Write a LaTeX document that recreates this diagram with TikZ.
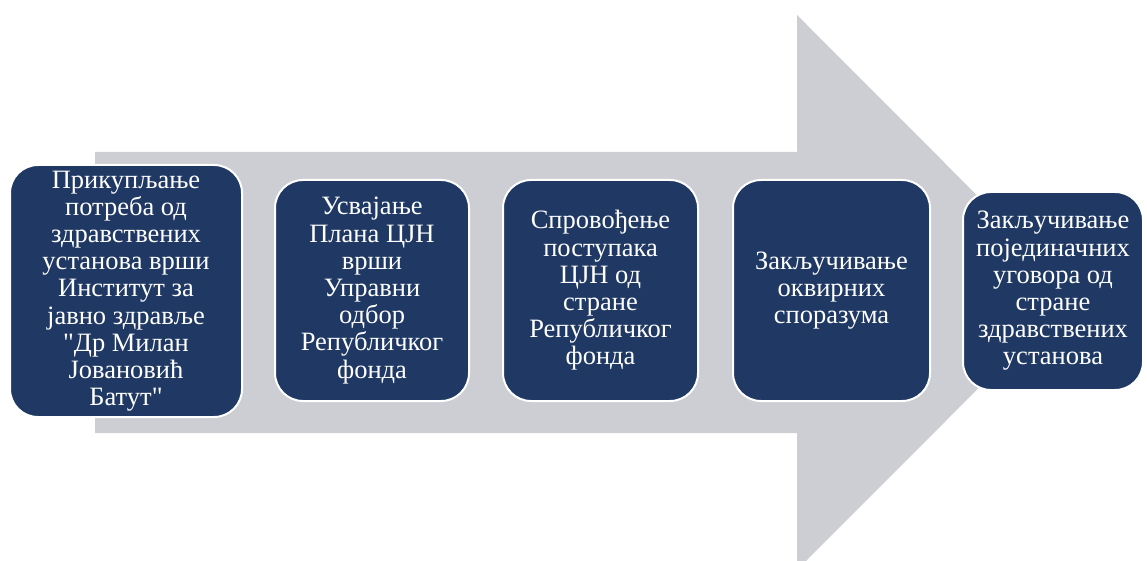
\documentclass[tikz,border=0pt]{standalone}
\usepackage{fontspec}
\setmainfont{Liberation Serif}[Ligatures=TeXOff]
\definecolor{navy}{RGB}{31,56,100}
\definecolor{arrowgrey}{RGB}{205,206,211}
\tikzset{
  stepbox/.style={draw=white, line width=2pt, fill=navy, text=white,
    rounded corners=28pt, inner sep=0pt, align=center,
    font=\fontsize{26.5}{27.2}\selectfont}
}
\begin{document}
\begin{tikzpicture}[x=1pt,y=-1pt]
\useasboundingbox (0,0) rectangle (1147,561);
\begin{scope}
\clip (0,0) rectangle (1147,561);
\fill[arrowgrey] (95,152) -- (797,152) -- (797,15) -- (1074,292.5) -- (797,570) -- (797,433) -- (95,433) -- cycle;
\end{scope}
\node[stepbox, minimum width=232pt, minimum height=252pt] (s1) at (126,291)
  {Прикупљање\\потреба од\\здравствених\\установа врши\\Институт за\\јавно здравље\\"Др Милан\\Јовановић\\Батут"};
\node[stepbox, minimum width=194pt, minimum height=221pt] (s2) at (372,290.5)
  {Усвајање\\Плана ЦЈН\\врши\\Управни\\одбор\\Републичког\\фонда};
\node[stepbox, minimum width=195pt, minimum height=221pt] (s3) at (600.5,290.5)
  {Спровођење\\поступака\\ЦЈН од\\стране\\Републичког\\фонда};
\node[stepbox, minimum width=197pt, minimum height=221pt] (s4) at (831.5,290.5)
  {Закључивање\\оквирних\\споразума};
\node[stepbox, minimum width=180pt, minimum height=198pt] (s5) at (1053,291)
  {Закључивање\\појединачних\\уговора од\\стране\\здравствених\\установа};
\end{tikzpicture}
\end{document}
